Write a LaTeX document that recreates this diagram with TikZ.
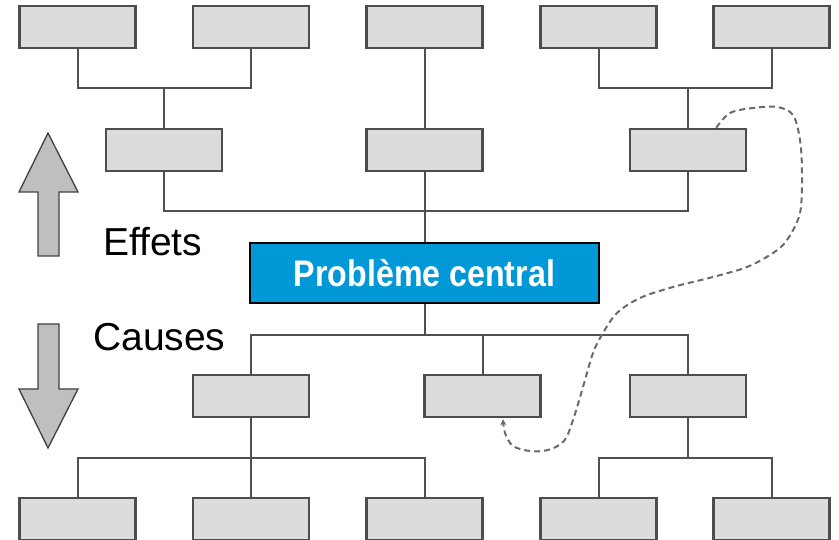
\documentclass[tikz,border=0pt]{standalone}
\usepackage{fontspec}
\setmainfont{Liberation Sans}
\newfontfamily\probfont[FakeStretch=0.87]{Liberation Sans}
\usetikzlibrary{arrows.meta,calc}
\definecolor{boxfill}{HTML}{DCDCDC}
\definecolor{boxline}{HTML}{4D4D4D}
\definecolor{linkcol}{HTML}{505050}
\definecolor{probblue}{HTML}{0098D7}
\definecolor{arrfill}{HTML}{BFBFBF}
\definecolor{arrline}{HTML}{404040}
\definecolor{dashcol}{HTML}{6A6A6A}
\begin{document}
\begin{tikzpicture}[x=1pt,y=-1pt,
  cell/.style={draw=boxline,line width=2.5pt,fill=boxfill,minimum width=116pt,minimum height=42pt,inner sep=0pt},
  link/.style={draw=linkcol,line width=2pt},
  bigarrow/.style={draw=arrline,line width=1.3pt,fill=arrfill,line join=miter},
  label/.style={inner sep=0pt,anchor=base west,font=\fontsize{39}{39}\selectfont}]
\useasboundingbox (0,0) rectangle (839,540);
\clip (0,0) rectangle (839,540);
% junctions
\coordinate (j1) at (164,88);
\coordinate (j2) at (688,88);
\coordinate (j3) at (424.5,211);
\coordinate (j4) at (424.5,335);
\coordinate (j5) at (251,458);
\coordinate (j6) at (688,458);
% top row
\node[cell] (t1) at (77.5,27) {};
\node[cell] (t2) at (251,27) {};
\node[cell] (t3) at (424.5,27) {};
\node[cell] (t4) at (598.5,27) {};
\node[cell] (t5) at (771.5,27) {};
% second row
\node[cell] (m1) at (164,150) {};
\node[cell] (m2) at (424.5,150) {};
\node[cell] (m3) at (688,150) {};
% central problem
\node[draw=black,line width=2.8pt,fill=probblue,minimum width=349pt,minimum height=60pt,inner sep=0pt,text=white,
  font=\probfont\bfseries\fontsize{37}{37}\selectfont] (pc) at (424.5,273) {Problème central};
% causes row
\node[cell] (c1) at (251,396) {};
\node[cell] (c2) at (482.5,396) {};
\node[cell] (c3) at (688,396) {};
% bottom row
\node[cell] (b1) at (77.5,519) {};
\node[cell] (b2) at (251,519) {};
\node[cell] (b3) at (424.5,519) {};
\node[cell] (b4) at (598.5,519) {};
\node[cell] (b5) at (771.5,519) {};
% connectors
\draw[link] (t1.south) |- (j1) -| (t2.south);
\draw[link] (j1) -- (m1.north);
\draw[link] (t4.south) |- (j2) -| (t5.south);
\draw[link] (j2) -- (m3.north);
\draw[link] (t3.south) -- (m2.north);
\draw[link] (m2.south) -- (pc.north);
\draw[link] (m1.south) |- (j3) -| (m3.south);
\draw[link] (pc.south) -- (j4);
\draw[link] (c1.north) |- (j4) -| (c3.north);
\draw[link] (c2.north) -- (c2.north |- j4);
\draw[link] (c1.south) -- (b2.north);
\draw[link] (b1.north) |- (j5) -| (b3.north);
\draw[link] (c3.south) -- (j6);
\draw[link] (b4.north) |- (j6) -| (b5.north);
% big arrows
\draw[bigarrow] (48,133) -- (78,192) -- (59,192) -- (59,256) -- (38,256) -- (38,192) -- (19,192) -- cycle;
\draw[bigarrow] (38,324) -- (59,324) -- (59,389) -- (78,389) -- (48,448) -- (19,389) -- (38,389) -- cycle;
% labels
\node[label] (effets) at (103,256) {Effets};
\node[label] (causes) at (93,351) {Causes};
% dashed feedback curve
\coordinate (ds) at ($(m3.north east)+(-31,0)$);
\coordinate (de) at ($(c2.south)+(20.5,1)$);
\draw[dashcol,line width=2pt,dash pattern=on 6pt off 4pt,-{Stealth[length=6pt,width=6pt]}]
  plot[smooth,tension=0.55] coordinates {(ds) (730,113) (753,108) (777,107) (793,115) (800,140) (802,173) (800,213)
  (787,240) (773,253) (747,267) (713,277) (673,287) (640,298) (617,313) (603,333) (593,353) (583,387)
  (573,420) (564,441) (548,450) (530,451) (513,446) (505,433) (de)};
\end{tikzpicture}
\end{document}
